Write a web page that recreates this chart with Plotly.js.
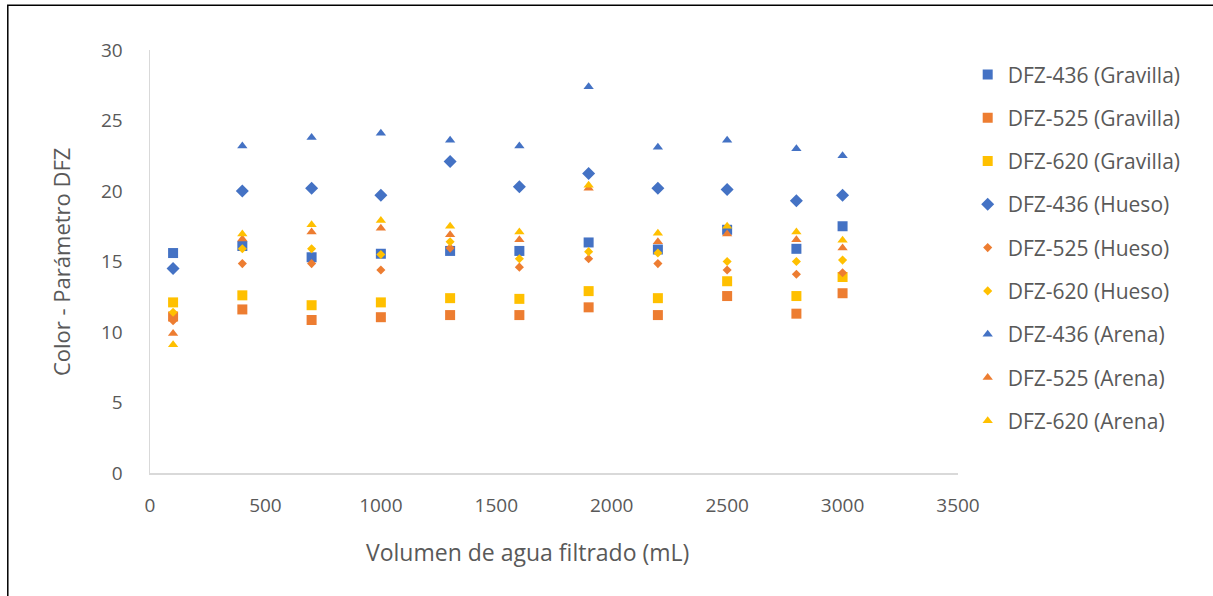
<!DOCTYPE html>
<html>
<head>
<meta charset="utf-8">
<script src="https://cdn.plot.ly/plotly-3.0.1.min.js"></script>
<style>html,body{margin:0;padding:0;background:#fff;}#chart{width:1213px;height:596px;}</style>
</head>
<body>
<div id="chart"></div>
<script>
const volumes = [100, 400, 700, 1000, 1300, 1600, 1900, 2200, 2500, 2800, 3000];

const dfz436Gravilla = [15.6, 16.1, 15.3, 15.55, 15.75, 15.75, 16.35, 15.85, 17.25, 15.9, 17.5];
const dfz525Gravilla = [11.1, 11.6, 10.85, 11.05, 11.2, 11.2, 11.75, 11.2, 12.55, 11.3, 12.75];
const dfz620Gravilla = [12.1, 12.6, 11.9, 12.1, 12.4, 12.35, 12.9, 12.4, 13.6, 12.55, 13.9];
const dfz436Hueso = [14.5, 20.0, 20.2, 19.7, 22.1, 20.3, 21.25, 20.2, 20.1, 19.3, 19.7];
const dfz525Hueso = [10.8, 14.85, 14.85, 14.4, 15.95, 14.6, 15.2, 14.85, 14.4, 14.1, 14.2];
const dfz620Hueso = [11.4, 15.9, 15.9, 15.5, 16.4, 15.2, 15.7, 15.6, 15.0, 15.0, 15.1];
const dfz436Arena = [null, 23.2, 23.8, 24.1, 23.6, 23.2, 27.4, 23.1, 23.6, 23.0, 22.5];
const dfz525Arena = [9.9, 16.6, 17.1, 17.35, 16.9, 16.55, 20.2, 16.4, 16.95, 16.55, 15.95];
const dfz620Arena = [9.1, 16.95, 17.6, 17.9, 17.5, 17.1, 20.4, 17.0, 17.5, 17.1, 16.5];

const seriesNames = [
  'DFZ-436 (Gravilla)', 'DFZ-525 (Gravilla)', 'DFZ-620 (Gravilla)',
  'DFZ-436 (Hueso)', 'DFZ-525 (Hueso)', 'DFZ-620 (Hueso)',
  'DFZ-436 (Arena)', 'DFZ-525 (Arena)', 'DFZ-620 (Arena)'
];
const xTicks = [0, 500, 1000, 1500, 2000, 2500, 3000, 3500];
const yTicks = [0, 5, 10, 15, 20, 25, 30];
const xTitle = 'Volumen de agua filtrado (mL)';
const yTitle = 'Color - Parámetro DFZ';

const allValues = [dfz436Gravilla, dfz525Gravilla, dfz620Gravilla, dfz436Hueso, dfz525Hueso, dfz620Hueso, dfz436Arena, dfz525Arena, dfz620Arena];
const colors = ['#4472C4', '#ED7D31', '#FFC000'];
const symbols = ['square', 'diamond', 'triangle-up'];
const sizes = [[10, 10, 10], [10, 7, 7], [9, 9, 9]];

const traces = allValues.map((vals, i) => {
  const s = Math.floor(i / 3), c = i % 3;
  return {
    type: 'scatter', mode: 'markers', name: seriesNames[i],
    x: volumes, y: vals, legendgroup: 'g' + i,
    marker: {symbol: symbols[s], color: colors[c], size: sizes[s][c], line: {width: 0}},
    cliponaxis: false
  };
});

const fontFam = '"Open Sans", "Noto Sans", sans-serif';
const layout = {
  width: 1213, height: 596,
  margin: {l: 149.5, r: 255, t: 50, b: 123, pad: 0},
  paper_bgcolor: '#ffffff', plot_bgcolor: '#ffffff',
  showlegend: true,
  font: {family: fontFam, color: '#595959', size: 19},
  xaxis: {
    range: [0, 3500], tickvals: xTicks, ticktext: xTicks.map(String),
    showgrid: false, zeroline: false, showline: true, linecolor: '#d9d9d9', linewidth: 1.5,
    ticks: '', ticklabelstandoff: 15,
    tickfont: {family: fontFam, size: 19, color: '#595959'}
  },
  yaxis: {
    range: [0, 30], tickvals: yTicks, ticktext: yTicks.map(String),
    showgrid: false, zeroline: false, showline: true, linecolor: '#d9d9d9', linewidth: 1.5,
    ticks: '', ticklabelstandoff: 22,
    tickfont: {family: fontFam, size: 19, color: '#595959'}
  },
  legend: {
    x: 1.012, xanchor: 'left', y: 0.99, yanchor: 'top',
    traceorder: 'grouped', tracegroupgap: 13,
    font: {family: fontFam, size: 21, color: '#595959'},
    bgcolor: 'rgba(0,0,0,0)', itemsizing: 'trace'
  },
  annotations: [
    {text: xTitle, xref: 'paper', yref: 'paper', x: 0.467, y: -0.187, xanchor: 'center', yanchor: 'middle',
     showarrow: false, font: {family: fontFam, size: 23, color: '#595959'}},
    {text: yTitle, xref: 'paper', yref: 'paper', x: -0.11, y: 0.499, xanchor: 'center', yanchor: 'middle',
     textangle: -90, showarrow: false, font: {family: fontFam, size: 22, color: '#595959'}}
  ],
  shapes: [{
    type: 'rect', xref: 'paper', yref: 'paper',
    x0: -0.176, x1: 1.33, y0: -0.32, y1: 1.106,
    line: {color: '#000000', width: 1.5}, fillcolor: 'rgba(0,0,0,0)', layer: 'above'
  }]
};

Plotly.newPlot('chart', traces, layout, {staticPlot: true, displayModeBar: false});
</script>
</body>
</html>
